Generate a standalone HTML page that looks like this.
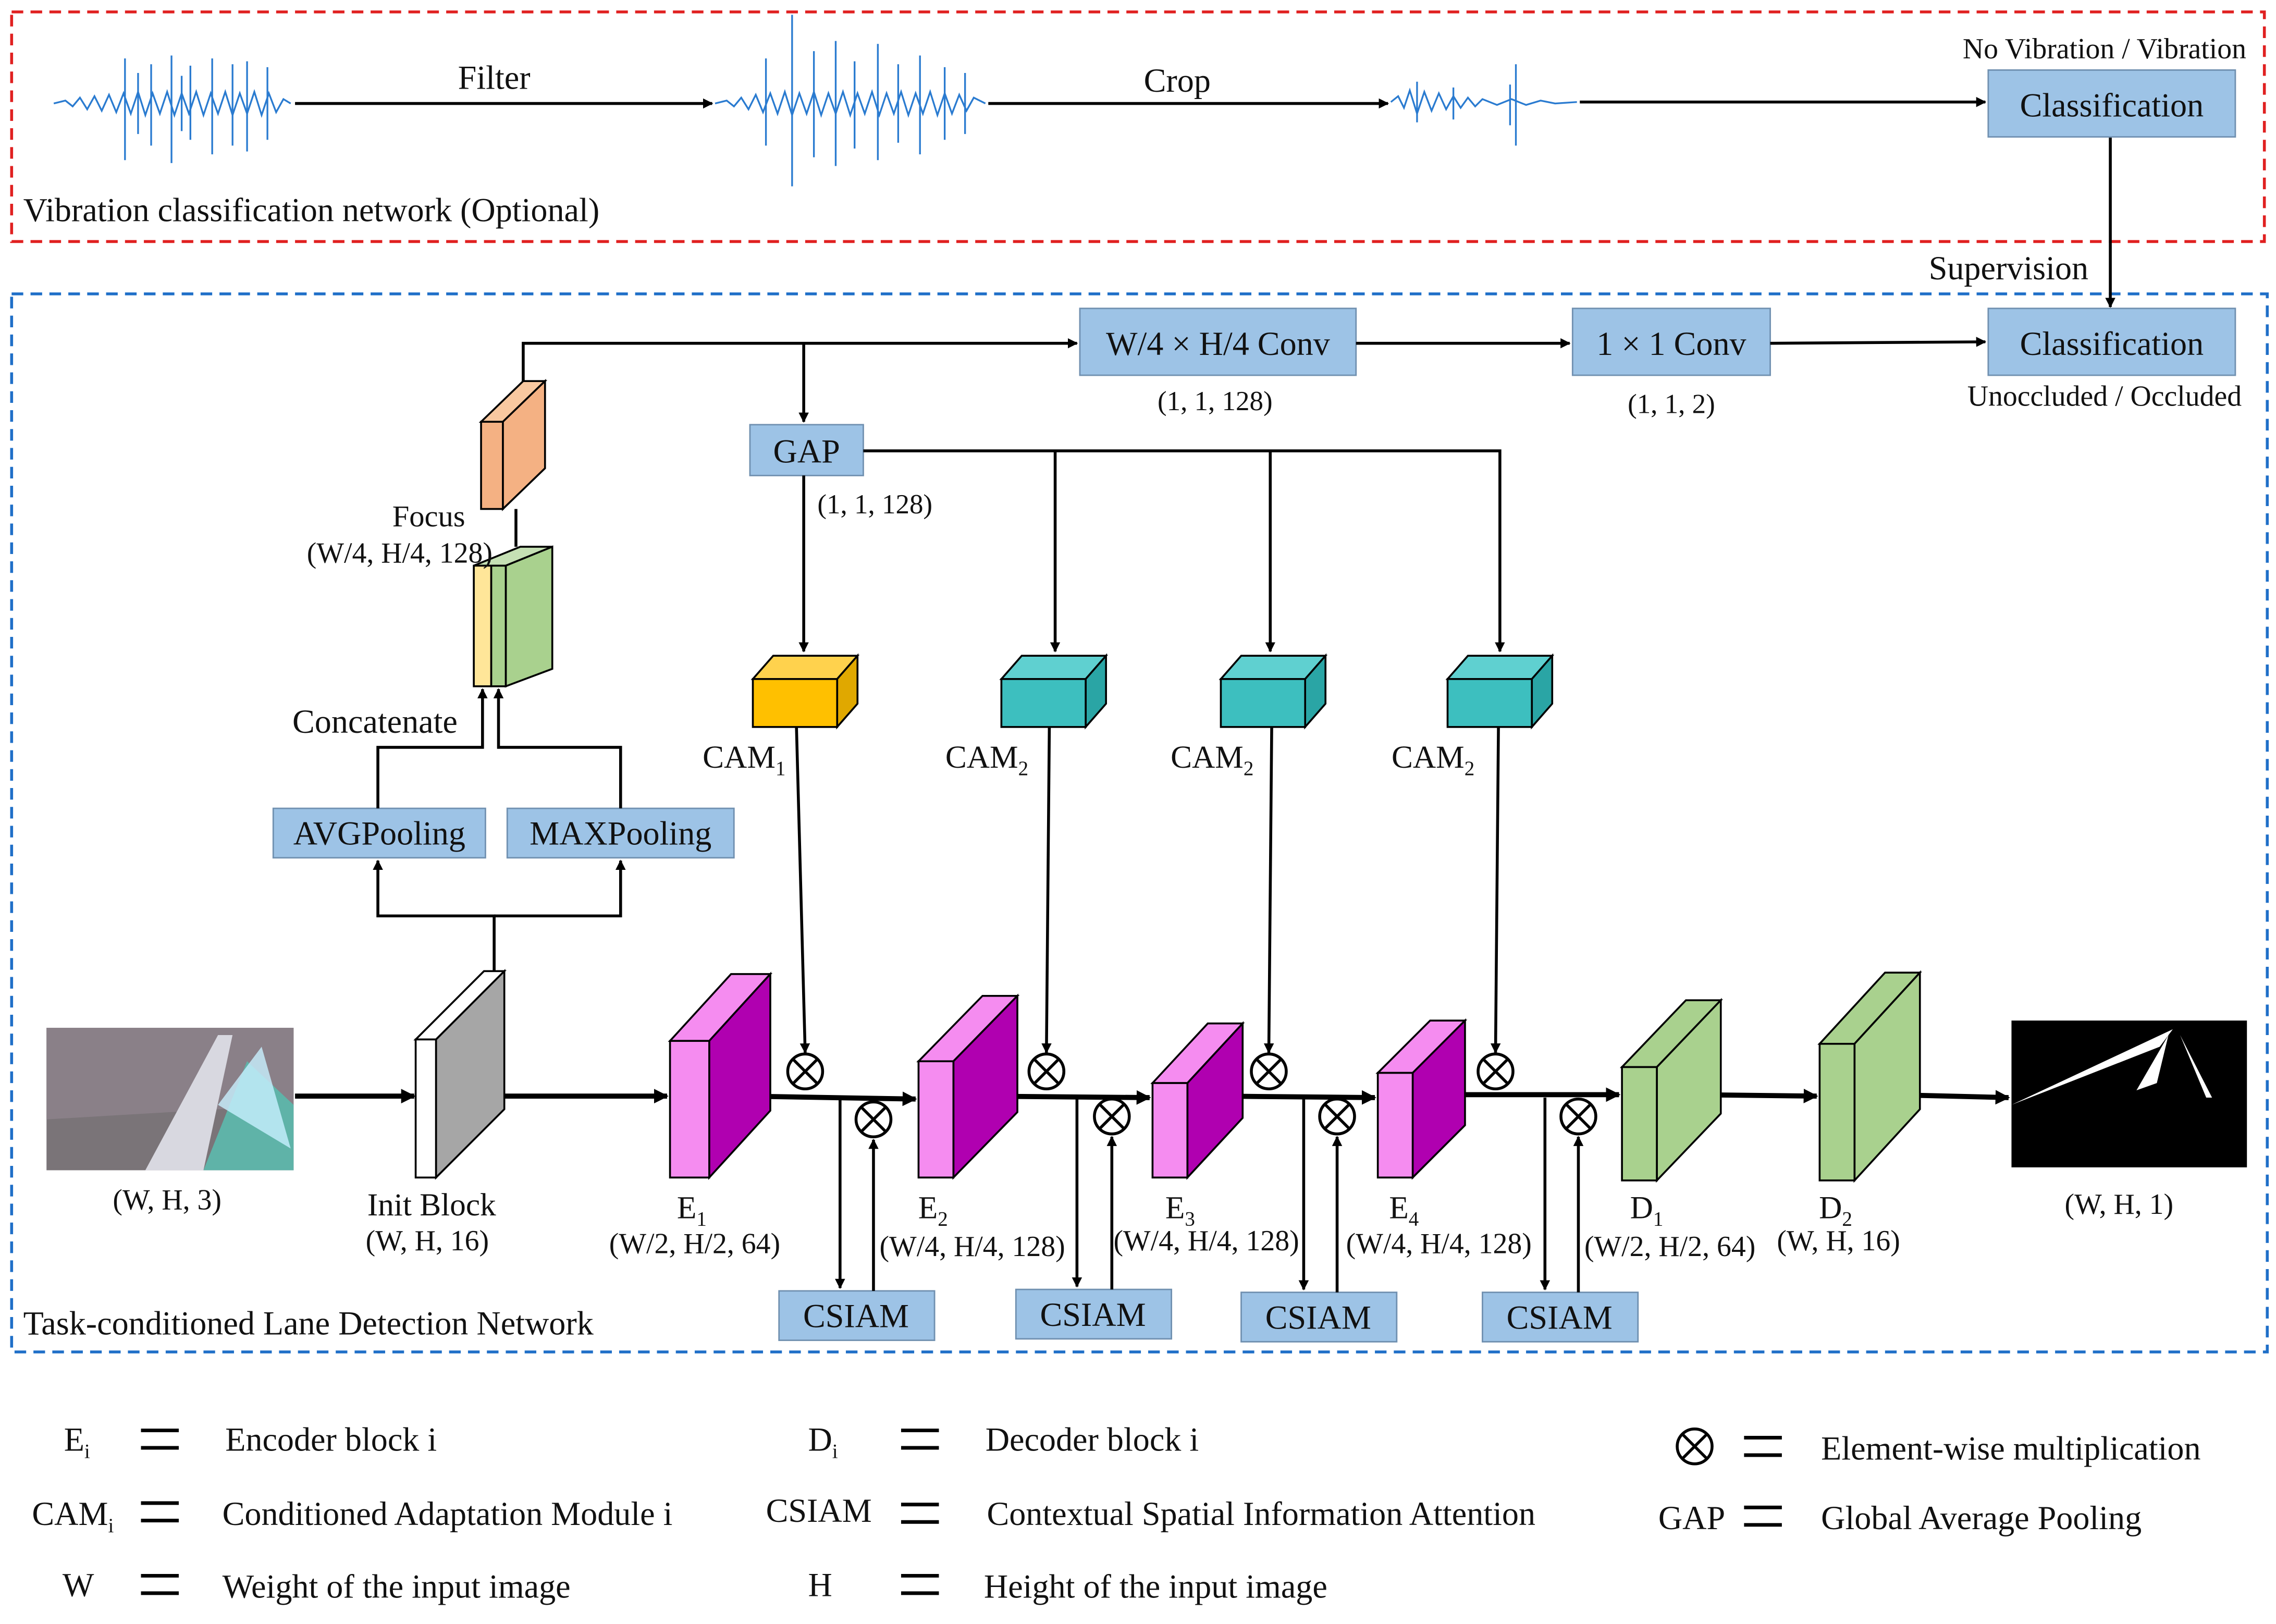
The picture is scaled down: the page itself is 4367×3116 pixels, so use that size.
<!DOCTYPE html>
<html><head><meta charset="utf-8"><style>
html,body{margin:0;padding:0;background:#fff}
svg{display:block}
text{font-family:"Liberation Serif",serif;fill:#111}
</style></head><body>
<svg width="4367" height="3116" viewBox="0 0 1566 1117" xmlns="http://www.w3.org/2000/svg">
<defs>
<marker id="a" viewBox="0 0 10 10" refX="9" refY="5" markerWidth="7" markerHeight="7" orient="auto-start-reverse" markerUnits="userSpaceOnUse"><path d="M0,0L10,5L0,10z" fill="#000"/></marker>
<marker id="b" viewBox="0 0 10 10" refX="9" refY="5" markerWidth="10" markerHeight="10" orient="auto" markerUnits="userSpaceOnUse"><path d="M0,0L10,5L0,10z" fill="#000"/></marker>
</defs>
<rect x="0" y="0" width="1566" height="1117" fill="#fff"/>
<rect x="8" y="8" width="1550" height="158" fill="none" stroke="#e02020" stroke-width="2" stroke-dasharray="8,5"/>
<rect x="8" y="202" width="1552" height="728" fill="none" stroke="#1f6fc8" stroke-width="2" stroke-dasharray="8,5"/>

<g stroke="#2a7bd0" stroke-width="1.2" fill="none">
<path d="M37,71 L45,69 L50,73 L55,67 L60,75 L65,66 L70,76 L75,65 L80,77 L85,64 L90,78 L95,63 L100,79 L105,64 L110,78 L115,63 L120,79 L125,64 L130,78 L135,63 L140,79 L145,64 L150,78 L155,63 L160,79 L165,64 L170,78 L175,63 L180,79 L185,64 L190,77 L195,68 L200,71"/>
<path d="M86,40V110M104,44V100M118,38V112M131,45V96M146,40V106M160,44V100M170,42V104M184,46V96M95,50V92M125,52V90"/>
<path d="M492,71 L500,69 L505,73 L510,67 L515,75 L520,65 L525,77 L530,64 L535,78 L540,63 L545,79 L550,64 L555,78 L560,63 L565,79 L570,64 L575,78 L580,63 L585,79 L590,64 L595,78 L600,63 L605,79 L610,64 L615,78 L620,63 L625,79 L630,64 L635,78 L640,63 L645,79 L650,64 L655,78 L660,65 L665,76 L670,67 L678,71"/>
<path d="M545,10V128M527,40V100M560,35V108M575,28V114M588,42V102M604,30V110M618,44V98M633,38V106M650,46V96M664,50V92"/>
<path d="M957,70 L962,66 L966,74 L970,62 L975,78 L980,63 L985,76 L990,64 L995,75 L1000,66 L1005,74 L1010,67 L1015,73 L1020,68 L1030,72 L1040,68 L1050,72 L1060,69 L1070,71 L1085,70"/>
<path d="M1043,44V100M1039,58V86M1000,60V82M975,56V84"/>
</g>

<g stroke="#000" stroke-width="2" fill="none">
<line x1="203" y1="71" x2="490" y2="71" marker-end="url(#a)"/>
<line x1="680" y1="71" x2="955" y2="71" marker-end="url(#a)"/>
<line x1="1087" y1="70" x2="1366" y2="70" marker-end="url(#a)"/>
<line x1="1452" y1="94" x2="1452" y2="211" marker-end="url(#a)"/>
</g>
<text x="340" y="61" font-size="23" text-anchor="middle">Filter</text>
<text x="810" y="63" font-size="23" text-anchor="middle">Crop</text>
<text x="1448" y="40" font-size="20" text-anchor="middle">No Vibration / Vibration</text>
<text x="16" y="152" font-size="23">Vibration classification network (Optional)</text>
<text x="1382" y="192" font-size="23" text-anchor="middle">Supervision</text>

<g fill="#9dc3e6" stroke="#7090b0" stroke-width="1">
<rect x="1368" y="48" width="170" height="46"/>
<rect x="1368" y="212" width="170" height="46"/>
<rect x="743" y="212" width="190" height="46"/>
<rect x="1082" y="212" width="136" height="46"/>
<rect x="516" y="292" width="78" height="35"/>
<rect x="188" y="556" width="146" height="34"/>
<rect x="349" y="556" width="156" height="34"/>
<rect x="536" y="888" width="107" height="34"/>
<rect x="699" y="887" width="107" height="34"/>
<rect x="854" y="889" width="107" height="34"/>
<rect x="1020" y="889" width="107" height="34"/>
</g>
<g font-size="23" text-anchor="middle">
<text x="1453" y="80">Classification</text>
<text x="1453" y="244">Classification</text>
<text x="838" y="244">W/4 × H/4 Conv</text>
<text x="1150" y="244">1 × 1 Conv</text>
<text x="555" y="318">GAP</text>
<text x="261" y="581">AVGPooling</text>
<text x="427" y="581">MAXPooling</text>
<text x="589" y="913">CSIAM</text>
<text x="752" y="912">CSIAM</text>
<text x="907" y="914">CSIAM</text>
<text x="1073" y="914">CSIAM</text>
</g>
<g font-size="19" text-anchor="middle">
<text x="1448" y="279" font-size="20">Unoccluded / Occluded</text>
<text x="836" y="282">(1, 1, 128)</text>
<text x="1150" y="284">(1, 1, 2)</text>
<text x="602" y="353">(1, 1, 128)</text>
</g>

<g stroke="#000" stroke-width="2" fill="none">
<polyline points="360,262 360,236 741,236" marker-end="url(#a)"/>
<line x1="553" y1="236" x2="553" y2="290" marker-end="url(#a)"/>
<line x1="933" y1="236" x2="1080" y2="236" marker-end="url(#a)"/>
<line x1="1218" y1="236" x2="1366" y2="235" marker-end="url(#a)"/>
<line x1="553" y1="327" x2="553" y2="448" marker-end="url(#a)"/>
<polyline points="594,310 1032,310 1032,448" marker-end="url(#a)"/>
<line x1="726" y1="310" x2="726" y2="448" marker-end="url(#a)"/>
<line x1="874" y1="310" x2="874" y2="448" marker-end="url(#a)"/>
<line x1="548" y1="500" x2="554" y2="724" marker-end="url(#a)"/>
<line x1="722" y1="500" x2="720" y2="724" marker-end="url(#a)"/>
<line x1="875" y1="500" x2="873" y2="724" marker-end="url(#a)"/>
<line x1="1031" y1="500" x2="1029" y2="724" marker-end="url(#a)"/>
<line x1="578" y1="755" x2="578" y2="886" marker-end="url(#a)"/>
<line x1="601" y1="888" x2="601" y2="784" marker-end="url(#a)"/>
<line x1="741" y1="755" x2="741" y2="885" marker-end="url(#a)"/>
<line x1="765" y1="887" x2="765" y2="782" marker-end="url(#a)"/>
<line x1="897" y1="755" x2="897" y2="887" marker-end="url(#a)"/>
<line x1="920" y1="889" x2="920" y2="782" marker-end="url(#a)"/>
<line x1="1063" y1="755" x2="1063" y2="887" marker-end="url(#a)"/>
<line x1="1086" y1="889" x2="1086" y2="782" marker-end="url(#a)"/>
<polyline points="340,668 340,630 260,630 260,592" marker-end="url(#a)"/>
<polyline points="340,630 427,630 427,592" marker-end="url(#a)"/>
<polyline points="260,556 260,514 332,514 332,474" marker-end="url(#a)"/>
<polyline points="427,556 427,514 343,514 343,474" marker-end="url(#a)"/>
<line x1="355" y1="376" x2="355" y2="350"/>
</g>
<g stroke="#000" stroke-width="3.5" fill="none">
<line x1="203" y1="754" x2="285" y2="754" marker-end="url(#b)"/>
<line x1="330" y1="754" x2="459" y2="754" marker-end="url(#b)"/>
<line x1="513" y1="754" x2="630" y2="756" marker-end="url(#b)"/>
<line x1="676" y1="754" x2="791" y2="755" marker-end="url(#b)"/>
<line x1="840" y1="754" x2="946" y2="755" marker-end="url(#b)"/>
<line x1="987" y1="753" x2="1114" y2="753" marker-end="url(#b)"/>
<line x1="1167" y1="753" x2="1250" y2="754" marker-end="url(#b)"/>
<line x1="1300" y1="753" x2="1382" y2="755" marker-end="url(#b)"/>
</g>

<g stroke="#000" stroke-width="2" fill="#fff">
<g transform="translate(554,737)"><circle r="12"/><path d="M-8.5,-8.5L8.5,8.5M8.5,-8.5L-8.5,8.5"/></g>
<g transform="translate(720,737)"><circle r="12"/><path d="M-8.5,-8.5L8.5,8.5M8.5,-8.5L-8.5,8.5"/></g>
<g transform="translate(873,737)"><circle r="12"/><path d="M-8.5,-8.5L8.5,8.5M8.5,-8.5L-8.5,8.5"/></g>
<g transform="translate(1029,737)"><circle r="12"/><path d="M-8.5,-8.5L8.5,8.5M8.5,-8.5L-8.5,8.5"/></g>
<g transform="translate(601,770)"><circle r="12"/><path d="M-8.5,-8.5L8.5,8.5M8.5,-8.5L-8.5,8.5"/></g>
<g transform="translate(765,768)"><circle r="12"/><path d="M-8.5,-8.5L8.5,8.5M8.5,-8.5L-8.5,8.5"/></g>
<g transform="translate(920,768)"><circle r="12"/><path d="M-8.5,-8.5L8.5,8.5M8.5,-8.5L-8.5,8.5"/></g>
<g transform="translate(1086,768)"><circle r="12"/><path d="M-8.5,-8.5L8.5,8.5M8.5,-8.5L-8.5,8.5"/></g>
<g transform="translate(1166,995)"><circle r="12"/><path d="M-8.5,-8.5L8.5,8.5M8.5,-8.5L-8.5,8.5"/></g>
</g>

<g stroke="#000" stroke-width="1.3">
<polygon points="518,467 532,451 590,451 576,467" fill="#ffd24d"/><polygon points="576,467 590,451 590,484 576,500" fill="#e0a800"/><rect x="518" y="467" width="58" height="33" fill="#ffc000"/>
<polygon points="689,467 703,451 761,451 747,467" fill="#5fd0d0"/><polygon points="747,467 761,451 761,484 747,500" fill="#2aa5a5"/><rect x="689" y="467" width="58" height="33" fill="#3dbfbf"/>
<polygon points="840,467 854,451 912,451 898,467" fill="#5fd0d0"/><polygon points="898,467 912,451 912,484 898,500" fill="#2aa5a5"/><rect x="840" y="467" width="58" height="33" fill="#3dbfbf"/>
<polygon points="996,467 1010,451 1068,451 1054,467" fill="#5fd0d0"/><polygon points="1054,467 1068,451 1068,484 1054,500" fill="#2aa5a5"/><rect x="996" y="467" width="58" height="33" fill="#3dbfbf"/>
<polygon points="331,290 360,262 375,262 346,290" fill="#f8c8a0"/><polygon points="346,290 375,262 375,322 346,350" fill="#f4b183"/><rect x="331" y="290" width="15" height="60" fill="#f4b183"/>
<polygon points="326,389 358,376 380,376 348,389" fill="#c5e0b4"/><polygon points="348,389 380,376 380,460 348,472" fill="#a9d18e"/><rect x="326" y="389" width="12" height="83" fill="#ffe699"/><rect x="338" y="389" width="10" height="83" fill="#a9d18e"/>
<polygon points="286,715 333,668 347,668 300,715" fill="#fff"/><polygon points="300,715 347,668 347,763 300,810" fill="#a6a6a6"/><rect x="286" y="715" width="14" height="95" fill="#fff"/>
<polygon points="461,716 503,670 530,670 488,716" fill="#f58cf0"/><polygon points="488,716 530,670 530,764 488,810" fill="#b000b0"/><rect x="461" y="716" width="27" height="94" fill="#f58cf0"/>
<polygon points="632,730 676,685 700,685 656,730" fill="#f58cf0"/><polygon points="656,730 700,685 700,765 656,810" fill="#b000b0"/><rect x="632" y="730" width="24" height="80" fill="#f58cf0"/>
<polygon points="793,745 831,704 855,704 817,745" fill="#f58cf0"/><polygon points="817,745 855,704 855,769 817,810" fill="#b000b0"/><rect x="793" y="745" width="24" height="65" fill="#f58cf0"/>
<polygon points="948,738 984,702 1008,702 972,738" fill="#f58cf0"/><polygon points="972,738 1008,702 1008,774 972,810" fill="#b000b0"/><rect x="948" y="738" width="24" height="72" fill="#f58cf0"/>
<polygon points="1116,734 1160,688 1184,688 1140,734" fill="#a9d18e"/><polygon points="1140,734 1184,688 1184,766 1140,812" fill="#a9d18e"/><rect x="1116" y="734" width="24" height="78" fill="#a9d18e"/>
<polygon points="1252,718 1297,669 1321,669 1276,718" fill="#a9d18e"/><polygon points="1276,718 1321,669 1321,763 1276,812" fill="#a9d18e"/><rect x="1252" y="718" width="24" height="94" fill="#a9d18e"/>
</g>

<rect x="32" y="707" width="170" height="98" fill="#7a7478"/>
<polygon points="32,707 202,707 202,760 32,770" fill="#8a8088"/>
<polygon points="100,805 150,712 160,712 140,805" fill="#d8d8e0"/>
<polygon points="140,805 170,730 202,760 202,805" fill="#5fb3a8"/>
<polygon points="150,760 180,720 200,790" fill="#c8f0ff" opacity="0.8"/>
<rect x="1384" y="702" width="162" height="101" fill="#000"/>
<polygon points="1384,760 1495,708 1486,720" fill="#fff"/>
<polygon points="1470,750 1492,712 1484,745" fill="#fff"/>
<polygon points="1500,712 1522,755 1518,755" fill="#fff"/>

<g font-size="20" text-anchor="middle">
<text x="115" y="832">(W, H, 3)</text>
<text x="297" y="836" font-size="22">Init Block</text>
<text x="294" y="860">(W, H, 16)</text>
<text x="476" y="838" font-size="22">E<tspan font-size="14" dy="5">1</tspan></text>
<text x="478" y="862">(W/2, H/2, 64)</text>
<text x="642" y="838" font-size="22">E<tspan font-size="14" dy="5">2</tspan></text>
<text x="669" y="864">(W/4, H/4, 128)</text>
<text x="812" y="838" font-size="22">E<tspan font-size="14" dy="5">3</tspan></text>
<text x="830" y="860">(W/4, H/4, 128)</text>
<text x="966" y="838" font-size="22">E<tspan font-size="14" dy="5">4</tspan></text>
<text x="990" y="862">(W/4, H/4, 128)</text>
<text x="1133" y="838" font-size="22">D<tspan font-size="14" dy="5">1</tspan></text>
<text x="1149" y="864">(W/2, H/2, 64)</text>
<text x="1263" y="838" font-size="22">D<tspan font-size="14" dy="5">2</tspan></text>
<text x="1265" y="860">(W, H, 16)</text>
<text x="1458" y="835">(W, H, 1)</text>
<text x="295" y="362" font-size="21">Focus</text>
<text x="275" y="387">(W/4, H/4, 128)</text>
<text x="258" y="504" font-size="23">Concatenate</text>
<text x="512" y="528" font-size="22">CAM<tspan font-size="14" dy="5">1</tspan></text>
<text x="679" y="528" font-size="22">CAM<tspan font-size="14" dy="5">2</tspan></text>
<text x="834" y="528" font-size="22">CAM<tspan font-size="14" dy="5">2</tspan></text>
<text x="986" y="528" font-size="22">CAM<tspan font-size="14" dy="5">2</tspan></text>
</g>
<text x="16" y="918" font-size="23">Task-conditioned Lane Detection Network</text>

<g font-size="23">
<text x="44" y="998">E<tspan font-size="14" dy="5">i</tspan></text>
<text x="155" y="998">Encoder block i</text>
<text x="556" y="998">D<tspan font-size="14" dy="5">i</tspan></text>
<text x="678" y="998">Decoder block i</text>
<text x="1253" y="1004">Element-wise multiplication</text>
<text x="22" y="1049">CAM<tspan font-size="14" dy="5">i</tspan></text>
<text x="153" y="1049">Conditioned Adaptation Module i</text>
<text x="527" y="1047">CSIAM</text>
<text x="679" y="1049">Contextual Spatial Information Attention</text>
<text x="1141" y="1052">GAP</text>
<text x="1253" y="1052">Global Average Pooling</text>
<text x="43" y="1098">W</text>
<text x="153" y="1099">Weight of the input image</text>
<text x="556" y="1098">H</text>
<text x="677" y="1099">Height of the input image</text>
</g>
<g stroke="#000" stroke-width="2.5">
<path d="M97,984H123M97,996H123"/>
<path d="M620,984H646M620,996H646"/>
<path d="M1200,989H1226M1200,1001H1226"/>
<path d="M97,1034H123M97,1046H123"/>
<path d="M620,1035H646M620,1047H646"/>
<path d="M1200,1037H1226M1200,1049H1226"/>
<path d="M97,1084H123M97,1096H123"/>
<path d="M620,1084H646M620,1096H646"/>
</g>
</svg>
</body></html>
